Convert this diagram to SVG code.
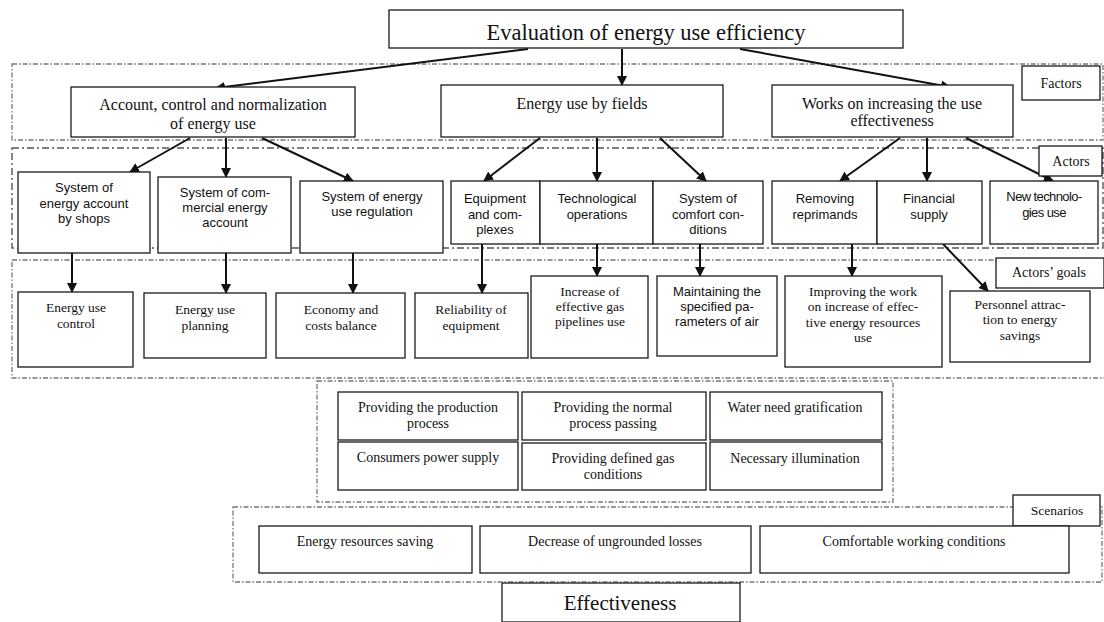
<svg xmlns="http://www.w3.org/2000/svg" width="1104" height="622" viewBox="0 0 1104 622">
<style>
.bg{fill:#fff}
.box{fill:#fff;stroke:#1a1a1a;stroke-width:1.3}
.reg{fill:none;stroke:#777;stroke-width:1.3;stroke-dasharray:5 2 1.5 2}
.reg2{fill:none;stroke:#555;stroke-width:1.4;stroke-dasharray:7 3 2 3}
.se{font-family:"Liberation Serif","DejaVu Serif",serif;fill:#111;text-anchor:middle}
.sa{font-family:"Liberation Sans","DejaVu Sans",sans-serif;fill:#111;text-anchor:middle;font-size:13px}
.f16{font-size:16px}
.f135{font-size:13.5px}
.f14{font-size:14px}
.con{stroke:#111;stroke-width:2;fill:none;marker-end:url(#ah)}
</style>
<defs>
<marker id="ah" viewBox="0 0 10 10" refX="9" refY="5" markerWidth="5" markerHeight="5" orient="auto" markerUnits="strokeWidth">
<path d="M0,0 L10,5 L0,10 z" fill="#111"/>
</marker>
</defs>
<rect class="bg" x="0" y="0" width="1104" height="622"/>

<g id="regions">
<rect class="reg" x="12" y="64" width="1091" height="76"/>
<rect class="reg2" x="12" y="148" width="1091" height="100"/>
<rect class="reg" x="12" y="260" width="1093" height="118"/>
<rect class="reg" x="317" y="381" width="576" height="121"/>
<rect class="reg" x="233" y="507" width="869" height="75"/>
</g>

<g id="connectors">
<line class="con" x1="528" y1="49" x2="216" y2="88"/>
<line class="con" x1="622" y1="49" x2="622" y2="85"/>
<line class="con" x1="740" y1="49" x2="950" y2="87"/>
<line class="con" x1="190" y1="138" x2="130" y2="172"/>
<line class="con" x1="226" y1="138" x2="226" y2="177"/>
<line class="con" x1="262" y1="138" x2="353" y2="181"/>
<line class="con" x1="540" y1="138" x2="484" y2="181"/>
<line class="con" x1="597" y1="138" x2="597" y2="181"/>
<line class="con" x1="660" y1="138" x2="706" y2="181"/>
<line class="con" x1="900" y1="138" x2="840" y2="181"/>
<line class="con" x1="927" y1="138" x2="927" y2="181"/>
<line class="con" x1="966" y1="138" x2="1053" y2="181"/>
<line class="con" x1="72" y1="253" x2="72" y2="292"/>
<line class="con" x1="226" y1="253" x2="226" y2="293"/>
<line class="con" x1="353" y1="253" x2="353" y2="293"/>
<line class="con" x1="482" y1="244" x2="482" y2="293"/>
<line class="con" x1="597" y1="244" x2="597" y2="276"/>
<line class="con" x1="700" y1="244" x2="700" y2="276"/>
<line class="con" x1="852" y1="244" x2="852" y2="276"/>
<line class="con" x1="943" y1="244" x2="988" y2="291"/>
</g>

<g id="title">
<rect class="box" x="389" y="10" width="514" height="38"/>
<text class="se" x="646" y="40" font-size="22.5">Evaluation of energy use efficiency</text>
</g>

<g id="label-factors">
<rect class="box" x="1022" y="66" width="78" height="34"/>
<text class="se f14" x="1061" y="88">Factors</text>
</g>
<g id="label-actors">
<rect class="box" x="1039" y="146" width="63" height="30"/>
<text class="se f14" x="1071" y="166">Actors</text>
</g>
<g id="label-goals">
<rect class="box" x="996" y="258" width="108" height="30"/>
<text class="se f14" x="1049" y="277">Actors’ goals</text>
</g>
<g id="label-scenarios">
<rect class="box" x="1013" y="495" width="87" height="31"/>
<text class="se f135" x="1057" y="515">Scenarios</text>
</g>

<g id="factor-account">
<rect class="box" x="71" y="87" width="284" height="50"/>
<text class="se f16" x="213" y="110">Account, control and normalization</text>
<text class="se f16" x="213" y="129">of energy use</text>
</g>
<g id="factor-fields">
<rect class="box" x="441" y="85" width="282" height="52"/>
<text class="se f16" x="582" y="109">Energy use by fields</text>
</g>
<g id="factor-works">
<rect class="box" x="772" y="85" width="241" height="52"/>
<text class="se f16" x="892" y="109">Works on increasing the use</text>
<text class="se f16" x="892" y="126">effectiveness</text>
</g>

<g id="actor-shops">
<rect class="box" x="18" y="172" width="132" height="81"/>
<text class="sa" x="84" y="192">System of</text>
<text class="sa" x="84" y="208">energy account</text>
<text class="sa" x="84" y="223">by shops</text>
</g>
<g id="actor-commercial">
<rect class="box" x="158" y="177" width="133" height="76"/>
<text class="sa" x="225" y="197">System of com-</text>
<text class="sa" x="225" y="212">mercial energy</text>
<text class="sa" x="225" y="227">account</text>
</g>
<g id="actor-regulation">
<rect class="box" x="300" y="181" width="143" height="72"/>
<text class="sa" x="372" y="201">System of energy</text>
<text class="sa" x="372" y="216">use regulation</text>
</g>
<g id="actor-equipment">
<rect class="box" x="451" y="181" width="89" height="63"/>
<text class="sa" x="495" y="203">Equipment</text>
<text class="sa" x="495" y="219">and com-</text>
<text class="sa" x="495" y="234">plexes</text>
</g>
<g id="actor-tech">
<rect class="box" x="540" y="181" width="113" height="63"/>
<text class="sa" x="597" y="203">Technological</text>
<text class="sa" x="597" y="219">operations</text>
</g>
<g id="actor-comfort">
<rect class="box" x="653" y="181" width="110" height="63"/>
<text class="sa" x="708" y="203">System of</text>
<text class="sa" x="708" y="219">comfort con-</text>
<text class="sa" x="708" y="234">ditions</text>
</g>
<g id="actor-removing">
<rect class="box" x="772" y="181" width="105" height="63"/>
<text class="sa" x="825" y="203">Removing</text>
<text class="sa" x="825" y="219">reprimands</text>
</g>
<g id="actor-financial">
<rect class="box" x="877" y="181" width="105" height="63"/>
<text class="sa" x="929" y="203">Financial</text>
<text class="sa" x="929" y="219">supply</text>
</g>
<g id="actor-newtech">
<rect class="box" x="990" y="181" width="108" height="63"/>
<text class="sa" x="1044" y="201" font-size="12" letter-spacing="-0.6">New technolo-</text>
<text class="sa" x="1044" y="217" font-size="12" letter-spacing="-0.6">gies use</text>
</g>

<g id="goal-control">
<rect class="box" x="18" y="292" width="115" height="75"/>
<text class="se f135" x="76" y="312">Energy use</text>
<text class="se f135" x="76" y="328">control</text>
</g>
<g id="goal-planning">
<rect class="box" x="144" y="293" width="122" height="65"/>
<text class="se f135" x="205" y="314">Energy use</text>
<text class="se f135" x="205" y="330">planning</text>
</g>
<g id="goal-economy">
<rect class="box" x="276" y="293" width="129" height="65"/>
<text class="se f135" x="341" y="314">Economy and</text>
<text class="se f135" x="341" y="330">costs balance</text>
</g>
<g id="goal-reliability">
<rect class="box" x="415" y="293" width="113" height="65"/>
<text class="se f135" x="471" y="314">Reliability of</text>
<text class="se f135" x="471" y="330">equipment</text>
</g>
<g id="goal-gas">
<rect class="box" x="531" y="276" width="117" height="82"/>
<text class="se f135" x="590" y="296">Increase of</text>
<text class="se f135" x="590" y="311">effective gas</text>
<text class="se f135" x="590" y="326">pipelines use</text>
</g>
<g id="goal-air">
<rect class="box" x="657" y="276" width="120" height="80"/>
<text class="sa" x="717" y="296">Maintaining the</text>
<text class="sa" x="717" y="311">specified pa-</text>
<text class="sa" x="717" y="326">rameters of air</text>
</g>
<g id="goal-improving">
<rect class="box" x="785" y="276" width="157" height="91"/>
<text class="se f135" x="863" y="296">Improving the work</text>
<text class="se f135" x="863" y="311">on increase of effec-</text>
<text class="se f135" x="863" y="327">tive energy resources</text>
<text class="se f135" x="863" y="342">use</text>
</g>
<g id="goal-personnel">
<rect class="box" x="950" y="291" width="140" height="71"/>
<text class="se f135" x="1020" y="309">Personnel attrac-</text>
<text class="se f135" x="1020" y="324">tion to energy</text>
<text class="se f135" x="1020" y="340">savings</text>
</g>

<g id="need-production">
<rect class="box" x="338" y="392" width="180" height="48"/>
<text class="se f14" x="428" y="412">Providing the production</text>
<text class="se f14" x="428" y="428">process</text>
</g>
<g id="need-normal">
<rect class="box" x="522" y="392" width="184" height="48"/>
<text class="se f14" x="613" y="412">Providing the normal</text>
<text class="se f14" x="613" y="428">process passing</text>
</g>
<g id="need-water">
<rect class="box" x="710" y="392" width="172" height="48"/>
<text class="se f14" x="795" y="412">Water need gratification</text>
</g>
<g id="need-power">
<rect class="box" x="338" y="442" width="180" height="48"/>
<text class="se f14" x="428" y="462">Consumers power supply</text>
</g>
<g id="need-gas">
<rect class="box" x="522" y="443" width="184" height="47"/>
<text class="se f14" x="613" y="463">Providing defined gas</text>
<text class="se f14" x="613" y="479">conditions</text>
</g>
<g id="need-illumination">
<rect class="box" x="710" y="442" width="172" height="48"/>
<text class="se f14" x="795" y="463">Necessary illumination</text>
</g>

<g id="scen-saving">
<rect class="box" x="259" y="526" width="213" height="47"/>
<text class="se f14" x="365" y="546">Energy resources saving</text>
</g>
<g id="scen-losses">
<rect class="box" x="480" y="526" width="271" height="47"/>
<text class="se f14" x="615" y="546">Decrease of ungrounded losses</text>
</g>
<g id="scen-comfort">
<rect class="box" x="760" y="526" width="309" height="47"/>
<text class="se f14" x="914" y="546">Comfortable working conditions</text>
</g>

<g id="effectiveness">
<rect class="box" x="502" y="583" width="238" height="39"/>
<text class="se" x="620" y="610" font-size="21">Effectiveness</text>
</g>
</svg>
